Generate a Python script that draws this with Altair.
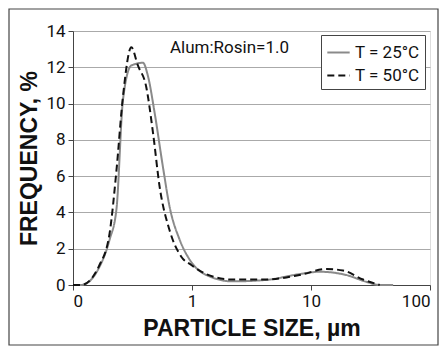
import altair as alt
import pandas as pd

size_25 = [0.1, 0.117, 0.167, 0.203, 0.232, 0.263, 0.309, 0.387, 0.427, 0.485, 0.57, 0.649, 0.787, 0.955, 1.32, 2.2, 4.2, 8.0, 11.8, 19.8, 29, 37.8, 49]
freq_25 = [0, 0, 1.0, 2.5, 4.2, 10.2, 12.1, 12.25, 11.5, 9.5, 6.5, 4.3, 2.5, 1.4, 0.55, 0.2, 0.28, 0.6, 0.73, 0.55, 0.18, 0, 0]

size_50 = [0.1, 0.117, 0.167, 0.203, 0.231, 0.263, 0.309, 0.351, 0.413, 0.47, 0.535, 0.649, 0.813, 0.987, 1.32, 2.2, 4.2, 8.0, 13.5, 18.6, 27.4, 37.8]
freq_50 = [0, 0, 1.1, 2.85, 6.2, 10.4, 13.1, 12.1, 10.9, 8.4, 5.4, 3.0, 1.56, 1.1, 0.6, 0.3, 0.3, 0.55, 0.88, 0.8, 0.3, 0]

series = ["T = 25°C", "T = 50°C"]
x_ticks = [0.1, 1, 10, 100]
y_ticks = [0, 2, 4, 6, 8, 10, 12, 14]

df = pd.concat([
    pd.DataFrame({"size": size_25, "freq": freq_25, "series": series[0], "order": range(len(size_25))}),
    pd.DataFrame({"size": size_50, "freq": freq_50, "series": series[1], "order": range(len(size_50))}),
])

FONT = "Liberation Sans Narrow, Roboto, sans-serif"
BOLD = "Liberation Sans, Arial, sans-serif"

lines = alt.Chart(df).mark_line(interpolate="monotone", strokeWidth=2).encode(
    x=alt.X("size:Q", scale=alt.Scale(type="log", domain=[0.1, 100]),
            axis=alt.Axis(values=x_ticks, labelExpr="datum.value < 1 ? '0' : datum.label",
                          title="PARTICLE SIZE, µm", grid=False, tickSize=5,
                          labelFontSize=17, labelFont=FONT, labelColor="#111",
                          titleFont=BOLD, titleFontSize=23, titleFontWeight="bold", titleColor="#111",
                          titlePadding=8, domainColor="#444", tickColor="#444", labelPadding=3)),
    y=alt.Y("freq:Q", scale=alt.Scale(domain=[0, 14]),
            axis=alt.Axis(values=y_ticks, title="FREQUENCY, %", grid=True, gridColor="#aaaaaa",
                          tickSize=5, labelFontSize=17, labelFont=FONT, labelColor="#111",
                          titleFont=BOLD, titleFontSize=23, titleFontWeight="bold", titleColor="#111",
                          titlePadding=4, domainColor="#444", tickColor="#444", labelPadding=3)),
    color=alt.Color("series:N", scale=alt.Scale(domain=series, range=["#8a8a8a", "#111111"]),
                    legend=alt.Legend(title=None, orient="none", legendX=248, legendY=4,
                                      symbolType="stroke", symbolSize=500, symbolStrokeWidth=2,
                                      labelFontSize=17, labelFont=FONT, labelColor="#111",
                                      strokeColor="#444", padding=5, rowPadding=2, fillColor="white")),
    strokeDash=alt.StrokeDash("series:N", scale=alt.Scale(domain=series, range=[[1, 0], [7, 4]]), legend=None),
    order="order:Q",
)

note = alt.Chart(pd.DataFrame({"t": ["Alum:Rosin=1.0"]})).mark_text(
    font=FONT, fontSize=17, color="#111", align="left", baseline="middle"
).encode(x=alt.value(97), y=alt.value(17), text="t:N")

frame = alt.Chart(pd.DataFrame({"a": [0]})).mark_rect(
    fill="white", fillOpacity=0, stroke="#444", strokeWidth=1.2
).encode(
    x=alt.value(-64), x2=alt.value(365), y=alt.value(-22), y2=alt.value(314)
)

chart = alt.layer(frame, lines, note).properties(
    width=357, height=254,
    autosize=alt.AutoSizeParams(type="none"),
    padding={"left": 65, "top": 23, "right": 9, "bottom": 61},
).configure_view(stroke="#444", strokeWidth=1.2).configure(background="white")

chart.save("out.html", embed_options={"renderer": "svg", "actions": False})
